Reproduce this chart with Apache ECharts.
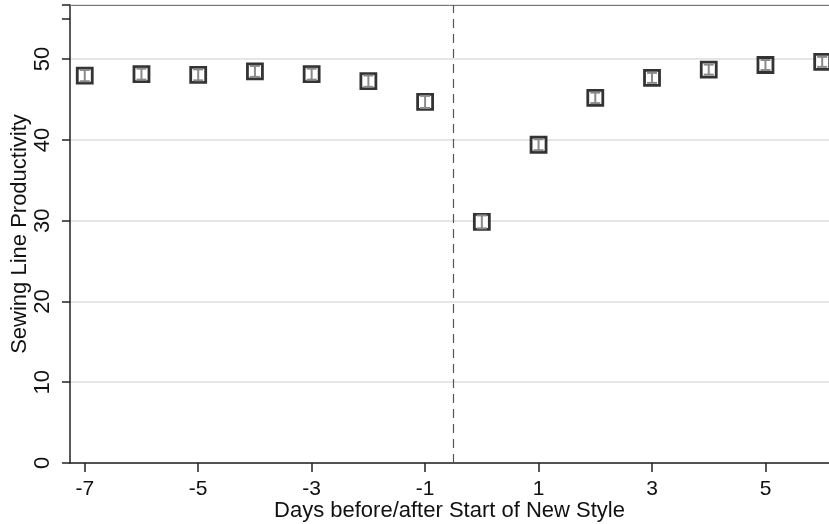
<!DOCTYPE html>
<html>
<head>
<meta charset="utf-8">
<script src="https://cdn.jsdelivr.net/npm/echarts@6/dist/echarts.min.js"></script>
<style>
html,body{margin:0;padding:0;background:#fff;}
#chart{width:829px;height:524px;}
</style>
</head>
<body>
<div id="chart"></div>
<script>
// Data
const days = [-7, -6, -5, -4, -3, -2, -1, 0, 1, 2, 3, 4, 5, 6];
const productivity = [47.96, 48.14, 48.05, 48.48, 48.14, 47.27, 44.70, 29.85, 39.40, 45.20, 47.68, 48.70, 49.27, 49.66];
const ciLower = [47.26, 47.46, 47.37, 47.80, 47.46, 46.57, 43.95, 29.05, 38.72, 44.55, 47.06, 48.08, 48.65, 49.04];
const ciUpper = [48.66, 48.82, 48.73, 49.16, 48.82, 47.97, 45.45, 30.65, 40.08, 45.85, 48.30, 49.32, 49.89, 50.28];
const xTickValues = [-7, -5, -3, -1, 1, 3, 5];
const yLabelValues = [0, 10, 20, 30, 40, 50];
const eventLine = -0.5;
const xTitle = 'Days before/after Start of New Style';
const yTitle = 'Sewing Line Productivity';

const FONT = '"Liberation Sans", Arial, sans-serif';
const xMin = -7.26, xMax = 6.12, yMin = 0, yMax = 56.7;

const points = days.map((d, i) => [d, productivity[i]]);
const bars = days.map((d, i) => [d, ciLower[i], ciUpper[i]]);

const chart = echarts.init(document.getElementById('chart'), null, {renderer: 'canvas'});
chart.setOption({
  animation: false,
  backgroundColor: '#ffffff',
  grid: {left: 70, right: 0, top: 5, bottom: 61, containLabel: false, outerBoundsMode: 'none'},
  xAxis: [{
    type: 'value', min: xMin, max: xMax, position: 'bottom',
    name: xTitle, nameLocation: 'middle', nameGap: 37, nameMoveOverlap: false,
    nameTextStyle: {fontFamily: FONT, fontSize: 22, color: '#111'},
    axisLine: {show: true, onZero: false, lineStyle: {color: '#222', width: 1.5}},
    axisTick: {show: true, length: 9, customValues: xTickValues, lineStyle: {color: '#222', width: 1.5}},
    axisLabel: {customValues: xTickValues, margin: 16, fontFamily: FONT, fontSize: 21, color: '#111'},
    splitLine: {show: false}
  }, {
    type: 'value', min: xMin, max: xMax, position: 'top',
    axisLine: {show: true, onZero: false, lineStyle: {color: '#777', width: 1}},
    axisTick: {show: false}, axisLabel: {show: false}, splitLine: {show: false}
  }],
  yAxis: [{
    type: 'value', min: yMin, max: yMax, interval: 10, position: 'left',
    name: yTitle, nameLocation: 'middle', nameGap: 39, nameRotate: 90, nameMoveOverlap: false,
    nameTextStyle: {fontFamily: FONT, fontSize: 22, color: '#111'},
    axisLine: {show: true, onZero: false, lineStyle: {color: '#222', width: 1.5}},
    axisTick: {show: true, length: 8, lineStyle: {color: '#222', width: 1.5}},
    axisLabel: {rotate: 90, margin: 16, fontFamily: FONT, fontSize: 22, color: '#111',
      formatter: v => (yLabelValues.indexOf(v) >= 0 ? String(v) : '')},
    splitLine: {show: true, lineStyle: {color: '#e6e6e6', width: 2}}
  }, {
    type: 'value', min: yMin, max: yMax, interval: 55, position: 'left',
    axisLine: {show: false, onZero: false},
    axisTick: {show: true, length: 8, lineStyle: {color: '#222', width: 1.5}},
    axisLabel: {show: false}, splitLine: {show: false}
  }],
  series: [{
    type: 'scatter',
    data: points,
    symbol: 'rect',
    symbolSize: 15,
    itemStyle: {color: '#ffffff', borderColor: '#000000', borderWidth: 2.8},
    z: 2,
    markLine: {
      silent: true, symbol: 'none', label: {show: false},
      lineStyle: {color: '#555', type: [9, 6], width: 1.2},
      data: [{xAxis: eventLine}]
    }
  }, {
    type: 'custom',
    data: bars,
    z: 3,
    renderItem: function (params, api) {
      const x = api.value(0);
      const lo = api.coord([x, api.value(1)]);
      const hi = api.coord([x, api.value(2)]);
      const half = 5;
      const style = {stroke: '#8a8a8a', lineWidth: 2};
      return {
        type: 'group',
        children: [
          {type: 'line', shape: {x1: lo[0], y1: lo[1], x2: hi[0], y2: hi[1]}, style: style},
          {type: 'line', shape: {x1: lo[0] - half, y1: lo[1], x2: lo[0] + half, y2: lo[1]}, style: style},
          {type: 'line', shape: {x1: hi[0] - half, y1: hi[1], x2: hi[0] + half, y2: hi[1]}, style: style}
        ]
      };
    }
  }]
});
</script>
</body>
</html>
